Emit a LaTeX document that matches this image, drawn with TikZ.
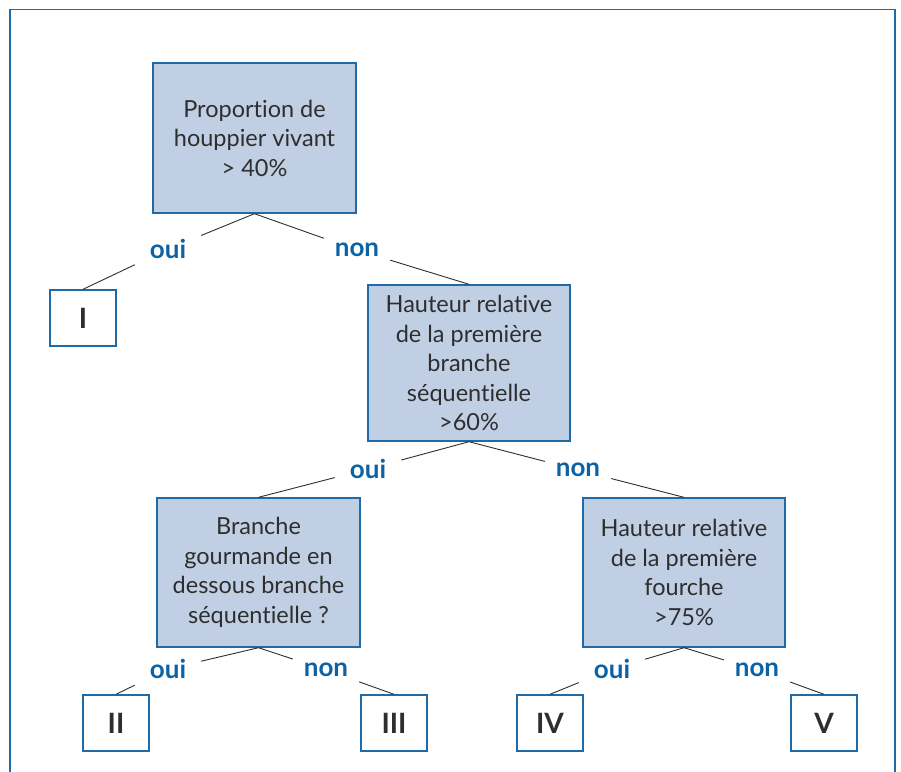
\documentclass[tikz,border=0pt]{standalone}
\usepackage{fontspec}
\setmainfont{Lato}[Ligatures=NoCommon]
\definecolor{frameblue}{HTML}{1F6AA8}
\definecolor{boxfill}{HTML}{C0CFE4}
\definecolor{lblblue}{HTML}{0B62A4}
\definecolor{txtgray}{HTML}{2E2E2E}
\begin{document}
\begin{tikzpicture}[x=1pt,y=-1pt,
  qbox/.style={draw=frameblue, line width=1.4pt, fill=boxfill, minimum width=#1, align=center, text=txtgray,
    font=\fontsize{23.5}{29.5}\selectfont, inner sep=0pt},
  qbox/.default=203pt,
  leaf/.style={draw=frameblue, line width=1.4pt, fill=white, minimum width=66pt, minimum height=56pt, text=txtgray,
    font=\fontsize{28}{30}\selectfont\bfseries, inner sep=0pt},
  conn/.style={draw=txtgray, line width=0.9pt},
  lbl/.style={text=lblblue, font=\fontsize{26}{28}\selectfont\bfseries, minimum width=66pt, minimum height=32pt, inner sep=0pt}]
\useasboundingbox (0,0) rectangle (901,771);
\clip (0,0) rectangle (901,771);
\draw[frameblue, line width=1.6pt] (10,790) -- (10,9.5) -- (895,9.5) -- (895,790);
\node[qbox, minimum height=150pt] (root) at (254.5,138) {Proportion de\\houppier vivant\\> 40\%};
\node[qbox=202pt, minimum height=156pt] (b2) at (469,363) {Hauteur relative\\de la première\\branche\\séquentielle\\>60\%};
\node[qbox, minimum height=149pt] (b3) at (258.5,572.5) {Branche\\gourmande en\\dessous branche\\séquentielle ?};
\node[qbox=202pt, minimum height=149pt] (b4) at (684,572.5) {Hauteur relative\\de la première\\fourche\\>75\%};
\node[leaf] (l1) at (83,318) {I};
\node[leaf] (l2) at (116,723) {II};
\node[leaf] (l3) at (394,723) {III};
\node[leaf] (l4) at (550,723) {IV};
\node[leaf] (l5) at (824,723) {V};
\node[lbl] (y1) at (168,249) {oui};
\node[lbl] (n1) at (357,250) {non};
\node[lbl] (y2) at (368,469) {oui};
\node[lbl] (n2) at (578,470) {non};
\node[lbl] (y3) at (168,669) {oui};
\node[lbl] (n3) at (326,670) {non};
\node[lbl] (y4) at (612,669) {oui};
\node[lbl] (n4) at (757,670) {non};
\draw[conn] (root.south) -- (y1) -- (l1.north);
\draw[conn] (root.south) -- (n1) -- (b2.north);
\draw[conn] (b2.south) -- (y2) -- (b3.north);
\draw[conn] (b2.south) -- (n2) -- (b4.north);
\draw[conn] (b3.south) -- (y3) -- (l2.north);
\draw[conn] (b3.south) -- (n3) -- (l3.north);
\draw[conn] (b4.south) -- (y4) -- (l4.north);
\draw[conn] (b4.south) -- (n4) -- (l5.north);
\end{tikzpicture}
\end{document}
